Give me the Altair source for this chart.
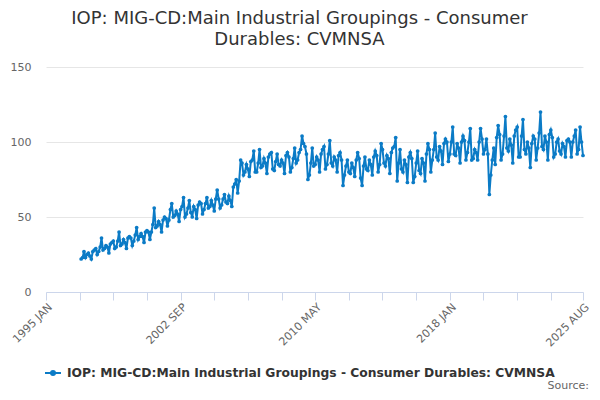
import altair as alt
import pandas as pd

# Monthly values (index)
y1997 = [22, 23, 27, 23, 25, 26, 24, 22, 27, 28, 29, 25]
y1998 = [27, 30, 36, 28, 29, 31, 30, 26, 32, 33, 34, 29]
y1999 = [30, 34, 40, 31, 32, 35, 33, 29, 36, 37, 36, 31]
y2000 = [34, 38, 43, 35, 37, 39, 37, 33, 40, 41, 40, 35]
y2001 = [40, 45, 56, 43, 44, 47, 45, 40, 48, 50, 49, 44]
y2002 = [48, 55, 59, 50, 51, 54, 52, 47, 55, 57, 63, 50]
y2003 = [52, 56, 61, 53, 50, 57, 55, 49, 58, 60, 59, 52]
y2004 = [55, 59, 63, 56, 57, 61, 58, 54, 62, 68, 62, 56]
y2005 = [58, 62, 65, 60, 59, 64, 61, 57, 70, 72, 75, 66]
y2006 = [74, 88, 86, 78, 80, 85, 82, 77, 87, 88, 94, 80]
y2007 = [80, 86, 95, 83, 84, 89, 86, 79, 90, 92, 93, 82]
y2008 = [81, 87, 92, 85, 84, 88, 86, 79, 91, 93, 90, 80]
y2009 = [83, 89, 96, 86, 88, 93, 95, 104, 99, 97, 92, 75]
y2010 = [78, 86, 96, 84, 85, 90, 88, 80, 92, 95, 97, 82]
y2011 = [85, 92, 101, 86, 84, 90, 88, 80, 91, 93, 88, 71]
y2012 = [78, 84, 88, 80, 79, 86, 83, 77, 88, 93, 89, 76]
y2013 = [71, 84, 90, 82, 81, 88, 85, 78, 90, 94, 91, 80]
y2014 = [85, 99, 95, 86, 84, 91, 89, 79, 93, 96, 97, 103]
y2015 = [74, 86, 95, 82, 80, 88, 85, 73, 90, 93, 89, 73]
y2016 = [77, 86, 94, 81, 79, 89, 86, 74, 92, 99, 95, 80]
y2017 = [88, 95, 106, 90, 88, 97, 94, 85, 99, 102, 100, 87]
y2018 = [92, 100, 110, 92, 91, 99, 96, 86, 100, 104, 101, 88]
y2019 = [93, 100, 109, 88, 89, 95, 93, 88, 100, 109, 102, 92]
y2020 = [95, 102, 92, 65, 78, 88, 96, 85, 103, 111, 105, 88]
y2021 = [92, 104, 117, 96, 94, 102, 98, 86, 104, 108, 110, 90]
y2022 = [90, 104, 115, 95, 92, 100, 96, 83, 99, 104, 102, 88]
y2023 = [96, 106, 120, 97, 95, 104, 100, 88, 105, 108, 103, 90]
y2024 = [92, 100, 102, 94, 92, 99, 97, 90, 101, 102, 100, 90]
y2025 = [100, 104, 108, 92, 95, 110, 100, 91]

series_name = "IOP: MIG-CD:Main Industrial Groupings - Consumer Durables: CVMNSA"
title_lines = ["IOP: MIG-CD:Main Industrial Groupings - Consumer", "Durables: CVMNSA"]
tick_labels = ["1995 JAN", "2002 SEP", "2010 MAY", "2018 JAN", "2025 AUG"]
y_ticks = [0, 50, 100, 150]

values = (y1997 + y1998 + y1999 + y2000 + y2001 + y2002 + y2003 + y2004 + y2005 +
          y2006 + y2007 + y2008 + y2009 + y2010 + y2011 + y2012 + y2013 + y2014 +
          y2015 + y2016 + y2017 + y2018 + y2019 + y2020 + y2021 + y2022 + y2023 +
          y2024 + y2025)
dates = pd.date_range("1997-01-01", periods=len(values), freq="MS").strftime("%Y-%m-%d")
df = pd.DataFrame({"date": dates, "value": values, "series": series_name})

# tick positions: every 23 months from 1995 JAN, ending at 2025 AUG
tick_months = [(1995 * 12 + i * 23) for i in range(16)]
tick_vals = [alt.DateTime(year=m // 12, month=m % 12 + 1, date=1, utc=True) for m in tick_months]
tick_vals.append(alt.DateTime(year=2025, month=8, date=1, utc=True))

color = "#0b7bc6"
font = "DejaVu Sans"

label_list = "[" + ",".join("'" + t + "'" for t in tick_labels) + "]"
label_expr = ("indexof(" + label_list + ", upper(utcFormat(datum.value, '%Y %b'))) >= 0 ? "
              "upper(utcFormat(datum.value, '%Y %b')) : ''")

line = alt.Chart(df).mark_line(
    strokeWidth=2,
    point=alt.OverlayMarkDef(size=14, filled=True, color=color),
).encode(
    x=alt.X("date:T",
            scale=alt.Scale(type="utc",
                            domain=[alt.DateTime(year=1995, month=1, date=1, utc=True),
                                    alt.DateTime(year=2025, month=8, date=1, utc=True)]),
            axis=alt.Axis(values=tick_vals, labelExpr=label_expr, title=None, grid=False,
                          domainColor="#ccd6eb", tickColor="#ccd6eb", tickSize=8,
                          labelAngle=-45, labelAlign="right", labelBaseline="top",
                          labelPadding=1, labelFlush=False, labelOverlap=False, labelBound=False,
                          labelColor="#666666", labelFontSize=11, labelFont=font)),
    y=alt.Y("value:Q", scale=alt.Scale(domain=[0, 150], nice=False),
            axis=alt.Axis(values=y_ticks, title=None, domain=False, ticks=False,
                          labelPadding=15, gridColor="#e6e6e6", labelColor="#666666",
                          labelFontSize=11, labelFont=font)),
    color=alt.Color("series:N", scale=alt.Scale(range=[color]),
                    legend=alt.Legend(title=None, orient="none", legendX=-2, legendY=297,
                                      symbolType="M-1,0H1M-0.25,0A0.25,0.25,0,1,0,0.25,0A0.25,0.25,0,1,0,-0.25,0Z",
                                      symbolSize=256, symbolStrokeWidth=2,
                                      symbolFillColor=color, symbolStrokeColor=color,
                                      labelFont=font, labelFontSize=12.3, labelFontWeight="bold",
                                      labelColor="#333333", labelOffset=5, labelLimit=0)),
)

source = alt.Chart(pd.DataFrame({"t": ["Source:"]})).mark_text(
    align="right", baseline="alphabetic", font=font, fontSize=11, color="#666666"
).encode(text="t:N", x=alt.value(543), y=alt.value(322))

chart = alt.layer(line, source).properties(
    width=537, height=225,
    padding={"left": 38, "top": 59, "right": 9, "bottom": 100},
    autosize=alt.AutoSizeParams(type="none"),
    title=alt.TitleParams(text=title_lines, font=font, fontSize=18, fontWeight="normal",
                          color="#333333", anchor="middle", dx=-15, lineHeight=21, offset=12),
).configure_view(stroke=None)

chart.save("out.html", embed_options={"renderer": "svg", "actions": False})
